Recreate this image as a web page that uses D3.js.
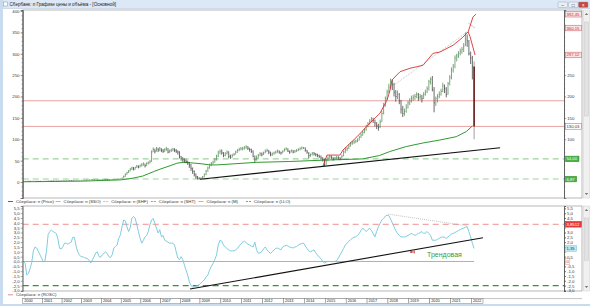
<!DOCTYPE html>
<html>
<head>
<meta charset="utf-8">
<script src="https://cdn.jsdelivr.net/npm/d3@7"></script>
<style>
  body { margin: 0; background: #fff; }
  svg { display: block; font-family: "Liberation Sans", Arial, sans-serif; }
</style>
</head>
<body>
<svg id="chart" width="590" height="306"></svg>
<script>
// monthly bars, Jan 2000 .. Feb 2022
const priceHi = [
  1.6,1.9,2.1,2.0,1.9,1.9,2.1,2.2,2.0,1.9,1.7,1.8,
  2.0,2.2,2.4,2.6,2.8,2.8,2.6,2.8,2.7,2.8,3.1,3.3,
  3.5,3.7,4.0,4.3,4.1,3.8,3.6,3.6,3.8,4.0,4.3,4.4,
  4.5,4.8,4.7,5.1,5.5,6.0,5.8,5.4,5.5,5.3,5.4,5.8,
  6.3,6.8,6.6,6.1,5.6,5.6,6.0,6.2,6.4,6.8,7.5,8.2,
  10,15,20,24,28,33,36,35,36,40,39,41,
  44,46,43,46,48,52,74,81,78,82,80,82,
  79,77,79,82,79,76,78,80,79,77,74,72,
  61,58,55,53,50,47,42,34,27,20,14,11,
  11,14,20,28,36,43,47,50,56,64,73,76,
  76,70,70,74,72,64,66,68,73,77,80,82,
  82,84,86,84,80,78,74,62,62,66,70,69,
  71,76,78,75,71,69,71,73,76,74,71,74,
  79,81,79,74,76,75,75,77,79,81,83,82,
  81,75,70,67,70,70,68,66,64,62,58,54,
  54,60,63,62,58,59,61,60,58,64,74,80,
  82,88,93,96,98,99,102,108,114,120,126,134,
  140,147,152,150,146,140,136,146,166,185,200,216,
  230,242,240,232,215,214,208,192,178,172,182,190,
  196,202,204,206,210,208,206,204,210,216,224,239,
  245,248,222,200,206,212,218,232,228,222,234,250,
  268,276,296,300,306,312,316,325,350,345,332,305,
  295,282
];
const priceLo = [
  1.2,1.4,1.6,1.6,1.4,1.5,1.6,1.8,1.6,1.4,1.3,1.4,
  1.5,1.7,1.9,2.1,2.3,2.3,2.2,2.3,2.2,2.3,2.5,2.8,
  2.9,3.1,3.3,3.7,3.4,3.2,3.0,3.1,3.3,3.5,3.7,3.8,
  3.9,4.1,4.0,4.3,4.7,5.1,5.0,4.7,4.8,4.5,4.7,5.0,
  5.3,5.7,5.4,4.9,4.6,4.8,5.1,5.4,5.6,5.9,6.3,6.9,
  7,9,12,17,21,25,28,27,29,33,32,34,
  36,38,34,37,41,43,47,70,67,71,70,72,
  70,68,70,73,67,68,70,72,70,68,64,55,
  50,47,45,44,40,33,26,19,13,8,6,6,
  6,8,11,16,24,31,37,41,45,50,58,65,
  64,58,60,64,56,54,57,61,64,68,72,74,
  74,76,78,75,71,68,58,47,50,55,61,60,
  63,67,70,65,60,61,64,66,68,66,64,67,
  71,74,70,66,69,67,68,70,72,74,76,77,
  71,66,55,59,62,62,60,58,56,52,48,37,
  40,49,54,53,50,52,54,53,51,54,60,68,
  72,77,83,87,89,91,93,97,103,108,114,120,
  128,134,140,138,130,124,120,126,140,158,176,192,
  208,218,215,200,188,194,182,160,152,155,162,172,
  180,186,190,192,196,190,192,186,194,202,208,214,
  228,212,163,178,186,196,202,210,208,198,204,226,
  240,256,266,282,290,296,300,304,318,316,296,276,
  240,100
];
const priceCl = [
  1.4,1.7,1.9,1.8,1.6,1.7,1.9,2.0,1.8,1.6,1.5,1.6,
  1.8,2.0,2.2,2.4,2.6,2.5,2.4,2.6,2.4,2.6,2.9,3.0,
  3.2,3.4,3.8,4.0,3.7,3.5,3.3,3.4,3.6,3.8,4.0,4.1,
  4.2,4.5,4.3,4.8,5.2,5.6,5.3,5.0,5.2,4.9,5.1,5.4,
  5.8,6.2,6.0,5.4,5.0,5.2,5.6,5.8,6.0,6.4,7.0,7.5,
  9,13,18,22,26,30,33,30,34,37,35,38,
  40,42,38,44,45,48,70,76,72,78,75,77,
  74,72,76,78,70,73,75,77,74,72,70,60,
  55,52,50,48,45,40,32,25,18,12,9,8,
  9,12,18,26,33,40,44,47,52,60,70,72,
  68,62,66,70,60,58,62,65,70,74,76,78,
  78,80,82,79,76,72,60,52,56,62,66,64,
  68,72,74,70,64,66,68,70,72,70,68,72,
  76,78,72,70,74,70,72,74,76,78,80,80,
  74,70,62,64,68,66,64,62,60,56,52,40,
  50,56,60,58,54,56,58,57,55,60,70,76,
  78,84,90,92,94,96,98,104,110,116,122,130,
  136,142,148,145,138,132,128,140,160,178,195,210,
  222,235,228,210,200,205,190,170,160,165,175,185,
  190,195,198,200,205,198,200,195,205,210,218,235,
  240,215,185,195,200,205,212,225,218,205,230,245,
  262,270,290,295,300,305,310,318,335,330,300,290,
  270,130.03
];
// oscillator (SSO), monthly
const oscValues = [
  0.0,-0.2,-1.4,-1.25,-0.75,-0.1,1.1,1.5,1.4,1.05,0.7,0.35,
  0.0,0.0,1.1,2.8,3.1,3.25,3.1,3.0,2.9,2.3,1.35,1.3,
  1.55,1.9,1.9,1.8,1.9,2.0,2.5,2.5,1.6,1.0,0.7,0.5,
  0.5,0.4,0.35,0.3,0.1,-0.15,0.2,0.5,0.9,1.0,0.5,0.45,
  0.7,0.85,1.0,0.8,0.5,0.4,0.7,1.4,1.55,1.7,2.4,2.75,
  3.6,4.3,4.2,3.6,3.1,3.5,4.5,4.65,4.5,3.8,3.1,2.4,
  1.9,2.2,2.55,2.7,3.1,3.8,4.3,4.45,3.95,3.45,2.95,3.3,
  2.55,2.7,2.2,2.1,2.0,1.9,1.9,1.9,1.7,1.0,0.35,0.2,
  0.5,0.2,-0.35,-0.9,-1.4,-2.1,-2.5,-2.65,-2.6,-2.55,-2.5,-2.4,
  -2.25,-2.05,-1.9,-1.6,-1.4,-0.9,-0.5,-0.2,0.2,0.67,1.7,2.2,
  2.1,1.7,1.5,1.35,1.2,1.1,1.1,1.1,1.2,1.35,1.6,1.8,
  2.0,2.1,1.95,1.8,1.7,1.6,1.5,2.0,1.2,0.85,0.9,1.0,
  1.3,1.5,1.2,1.0,0.85,1.0,1.2,1.35,1.4,1.3,1.2,1.5,
  1.6,1.7,1.6,1.5,1.45,1.4,1.5,1.55,1.7,1.8,1.85,1.9,
  1.6,1.35,1.1,1.0,1.1,1.2,0.9,0.67,0.45,0.3,0.0,-0.15,
  -0.05,0.0,0.0,0.0,0.0,0.0,0.1,0.35,0.7,1.0,1.35,1.7,
  1.9,2.1,2.25,2.4,2.5,2.55,2.7,2.9,3.2,3.45,3.3,3.1,
  3.3,3.45,3.2,2.9,2.55,3.1,3.6,3.95,4.3,4.45,4.7,4.8,
  4.75,4.4,4.0,3.6,3.2,2.9,2.7,2.55,2.55,2.55,2.6,2.7,
  2.8,2.9,2.8,2.7,2.8,2.9,3.0,3.1,2.9,2.95,3.1,2.9,
  2.7,2.2,2.2,2.2,2.3,2.4,2.5,2.55,2.5,2.4,2.55,2.7,
  2.85,2.9,3.0,3.1,3.2,3.3,3.4,3.45,3.55,3.6,3.1,2.55,
  1.9,1.35
];
// moving average [year, value]
const maPoints = [
  [2000.0,0.5],[2003.0,2],[2005.0,5],[2005.6,9],[2006.1,14],[2006.63,24],[2006.97,30],
  [2007.48,38],[2007.83,44],[2008.14,46],[2008.5,45],[2009.0,43],[2009.48,40],[2009.81,40],
  [2010.77,43],[2011.72,46],[2013.3,48],[2014.87,51],[2016.78,54],[2017.6,62],[2018.07,71],
  [2018.88,83],[2019.65,91],[2020.46,98],[2021.27,106],[2021.75,118],[2022.04,131]
];
// upper envelope line and its two end branches
const envPoints = [
  [2014.89,37],[2015.08,63],[2015.7,63],[2015.85,75],[2016.52,106],[2017.14,138],[2017.62,161],
  [2017.96,192],[2018.1,215],[2018.2,239],[2018.58,258],[2019.06,266],[2019.68,273],
  [2020.16,301],[2020.49,304],[2021.12,320],[2021.55,337],[2021.84,351]
];
const envUp = [[2021.84,351],[2022.07,386],[2022.21,392.45]];
const envDown = [[2021.84,351],[2021.93,340],[2022.17,297.12]];
const channelTop = [[2018.1,220],[2021.79,351]];
const channelTick = [[2021.84,372],[2022.17,360.15]];
const trendTop = [[2009.0,6.3],[2023.37,80.2]];
const priceLevelsRed = [190, 130.03];
const priceLevelsGreen = [54.0, 6.87];
// oscillator panel lines
const trendOsc = [[2008.49,-2.85],[2022.55,2.46]];
const channelOsc = [[2018.02,4.9],[2021.77,3.7]];
const oscUpper = 3.8512, oscLower = -2.5, oscZeroEnd = 2022.12;
const years = d3.range(2000, 2023);
const priceTicks = d3.range(0, 401, 50);
const oscTicks = d3.range(-3, 5.51, 0.5);
const legendTop = [
  {name: "Сбербанк: п (Price)", color: "#555", dash: null},
  {name: "Сбербанк: п (SSO)", color: "#6cc4d8", dash: null},
  {name: "Сбербанк: п (SHF)", color: "#e8a8a8", dash: "2,1"},
  {name: "Сбербанк: п (SHT)", color: "#e07070", dash: "2,1"},
  {name: "Сбербанк: п (M)", color: "#e09a9a", dash: null},
  {name: "Сбербанк: п (LLO)", color: "#5aa55a", dash: "2,1"}
];

const svg = d3.select("#chart");
const L = 22.7, R = 564;
const monthT = i => 2000 + (i + 0.5) / 12;
const comma = (v, d) => v.toFixed(d).replace(".", ",");

const x = d3.scaleLinear().domain([2000, 2009, 2022]).range([L, 200, 471.5]);
const yP = d3.scaleLinear().domain([-37.4, 402.3]).range([198, 10]);
const yO = d3.scaleLinear().domain([-3.054, 5.745]).range([291, 206]);

// window chrome
svg.append("rect").attr("width", 590).attr("height", 306).attr("fill", "#fff");
svg.append("rect").attr("x", 0).attr("y", 0).attr("width", 590).attr("height", 8.5).attr("fill", "#dce8f5");
svg.append("line").attr("x1", 0).attr("x2", 590).attr("y1", 8.5).attr("y2", 8.5).attr("stroke", "#b8c9dc").attr("stroke-width", 0.6);
svg.append("rect").attr("x", 0).attr("y", 0).attr("width", 3).attr("height", 306).attr("fill", "#c9dbef");
svg.append("rect").attr("x", 0).attr("y", 304).attr("width", 590).attr("height", 2).attr("fill", "#c9dbef");
svg.append("rect").attr("x", 3.5).attr("y", 2).attr("width", 4).attr("height", 4).attr("fill", "#fff").attr("stroke", "#7a8ea6").attr("stroke-width", 0.5);
svg.append("text").attr("x", 9.5).attr("y", 6).attr("font-size", 4.6).attr("fill", "#222")
  .text("Сбербанк: п Графике цены и объёма - [Основной]");
[[558, "#e9eef5", "–"], [568.5, "#e9eef5", "□"], [578.5, "#c9473f", "×"]].forEach(([bx, f, s]) => {
  svg.append("rect").attr("x", bx).attr("y", 2).attr("width", 9.5).attr("height", 5.5).attr("rx", 0.8)
    .attr("fill", f).attr("stroke", "#8a9bb0").attr("stroke-width", 0.4);
  svg.append("text").attr("x", bx + 4.75).attr("y", 6.6).attr("text-anchor", "middle").attr("font-size", 5)
    .attr("fill", f === "#c9473f" ? "#fff" : "#445").text(s);
});

// scrollbars
[[10, 198], [206, 291]].forEach(([a, b]) => {
  svg.append("rect").attr("x", 583.5).attr("y", a).attr("width", 6).attr("height", b - a)
    .attr("fill", "#f0f0f0").attr("stroke", "#cfcfcf").attr("stroke-width", 0.5);
  svg.append("rect").attr("x", 584.3).attr("y", a + 12).attr("width", 4.4).attr("height", (b - a) * 0.5)
    .attr("fill", "#e2e2e2").attr("stroke", "#c4c4c4").attr("stroke-width", 0.4);
  svg.append("path").attr("d", `M584.8,${a + 5}L586.5,${a + 3}L588.2,${a + 5}Z`).attr("fill", "#777");
  svg.append("path").attr("d", `M584.8,${b - 5}L586.5,${b - 3}L588.2,${b - 5}Z`).attr("fill", "#777");
});

// panel frames
[[10, 198], [206, 291]].forEach(([a, b]) => {
  svg.append("rect").attr("x", L).attr("y", a).attr("width", 582 - L).attr("height", b - a)
    .attr("fill", "none").attr("stroke", "#888").attr("stroke-width", 0.6);
});

const defs = svg.append("defs");
defs.append("clipPath").attr("id", "clipTop").append("rect").attr("x", L).attr("y", 10).attr("width", R - L).attr("height", 188);
defs.append("clipPath").attr("id", "clipBot").append("rect").attr("x", L).attr("y", 206).attr("width", R - L).attr("height", 85);

const topG = svg.append("g").attr("clip-path", "url(#clipTop)");
const botG = svg.append("g").attr("clip-path", "url(#clipBot)");

const lineP = d3.line().x(d => x(d[0])).y(d => yP(d[1]));
const lineO = d3.line().x(d => x(d[0])).y(d => yO(d[1]));

// horizontal levels (top)
priceLevelsRed.forEach(v => topG.append("line").attr("x1", L).attr("x2", R).attr("y1", yP(v)).attr("y2", yP(v))
  .attr("stroke", "#e48a8a").attr("stroke-width", 0.8));
priceLevelsGreen.forEach(v => topG.append("line").attr("x1", L).attr("x2", R).attr("y1", yP(v)).attr("y2", yP(v))
  .attr("stroke", "#9ed49e").attr("stroke-width", 1.1).attr("stroke-dasharray", "6,4"));

// moving average
topG.append("path").attr("d", lineP(maPoints)).attr("fill", "none").attr("stroke", "#2f9a2f").attr("stroke-width", 1);

// price bars
const bars = priceCl.map((c, i) => ({
  t: monthT(i), h: priceHi[i], l: priceLo[i], c: c,
  o: i === 0 ? c : priceCl[i - 1], last: i === priceCl.length - 1
}));
const barG = topG.append("g");
barG.selectAll("line.hl").data(bars).join("line").attr("class", "hl")
  .attr("x1", d => x(d.t)).attr("x2", d => x(d.t))
  .attr("y1", d => yP(d.h)).attr("y2", d => yP(d.l))
  .attr("stroke", d => d.last ? "#888" : (d.c >= d.o ? "#5a8f5a" : "#444"))
  .attr("stroke-width", 0.8);
barG.selectAll("line.cl").data(bars.filter(d => !d.last)).join("line").attr("class", "cl")
  .attr("x1", d => x(d.t)).attr("x2", d => x(d.t) + 0.9)
  .attr("y1", d => yP(d.c)).attr("y2", d => yP(d.c))
  .attr("stroke", d => d.c >= d.o ? "#5a8f5a" : "#444").attr("stroke-width", 0.6);
barG.selectAll("rect.body").data(bars.filter(d => d.last)).join("rect").attr("class", "body")
  .attr("x", d => x(d.t) - 0.8).attr("width", 1.6)
  .attr("y", d => yP(d.o)).attr("height", d => yP(d.c) - yP(d.o))
  .attr("fill", "#6e1c1c");

// envelope, channel, trend
topG.append("path").attr("d", lineP(channelTop)).attr("fill", "none").attr("stroke", "#999")
  .attr("stroke-width", 0.6).attr("stroke-dasharray", "1,1");
topG.append("path").attr("d", lineP(channelTick)).attr("fill", "none").attr("stroke", "#aaa").attr("stroke-width", 0.6);
[envPoints, envUp, envDown].forEach(p => topG.append("path").attr("d", lineP(p)).attr("fill", "none")
  .attr("stroke", "#d23434").attr("stroke-width", 0.9));
topG.append("path").attr("d", lineP(trendTop)).attr("fill", "none").attr("stroke", "#111").attr("stroke-width", 1.1);

// oscillator panel
botG.append("line").attr("x1", L).attr("x2", R).attr("y1", yO(oscUpper)).attr("y2", yO(oscUpper))
  .attr("stroke", "#f09090").attr("stroke-width", 1).attr("stroke-dasharray", "6,4");
botG.append("line").attr("x1", L).attr("x2", R).attr("y1", yO(oscLower)).attr("y2", yO(oscLower))
  .attr("stroke", "#3c8f3c").attr("stroke-width", 1.1).attr("stroke-dasharray", "6,4");
botG.append("line").attr("x1", L).attr("x2", x(oscZeroEnd)).attr("y1", yO(0)).attr("y2", yO(0))
  .attr("stroke", "#e07f7f").attr("stroke-width", 0.8);
botG.append("path").attr("d", lineO(oscValues.map((v, i) => [monthT(i), v]))).attr("fill", "none")
  .attr("stroke", "#72c6da").attr("stroke-width", 0.9);
botG.append("path").attr("d", lineO(channelOsc)).attr("fill", "none").attr("stroke", "#999")
  .attr("stroke-width", 0.6).attr("stroke-dasharray", "1,1");
botG.append("path").attr("d", lineO(trendOsc)).attr("fill", "none").attr("stroke", "#111").attr("stroke-width", 1.1);
botG.append("text").attr("x", x(2019.87)).attr("y", yO(0.47)).attr("font-size", 7).attr("fill", "#3a9a3a")
  .text("Трендовая");
const ax0 = x(2019.06), ax1 = x(2019.27), ay = yO(0.98);
botG.append("line").attr("x1", ax0).attr("x2", ax1).attr("y1", ay).attr("y2", ay).attr("stroke", "#d02020").attr("stroke-width", 0.9);
botG.append("path").attr("d", `M${ax0},${ay}L${ax0 + 1.6},${ay - 1.3}L${ax0 + 1.6},${ay + 1.3}Z`).attr("fill", "#d02020");
botG.append("line").attr("x1", ax1).attr("x2", ax1).attr("y1", ay - 1.5).attr("y2", ay + 1.5).attr("stroke", "#d02020").attr("stroke-width", 0.6);

// value tags at the right axis, computed first so the axis labels under them can be skipped
const endVal = p => p[p.length - 1][1];
const lastCl = priceCl[priceCl.length - 1];
const lastOsc = oscValues[oscValues.length - 1];
const tags = [
  {y: yP(endVal(envUp)), text: comma(endVal(envUp), 2), fill: "#fbe4e4", stroke: "#d05050", color: "#c03030"},
  {y: yP(endVal(channelTick)), text: comma(endVal(channelTick), 2), fill: "#fbe4e4", stroke: "#d05050", color: "#c03030"},
  {y: yP(endVal(envDown)), text: comma(endVal(envDown), 2), fill: "#fbe4e4", stroke: "#d05050", color: "#c03030"},
  {y: yP(lastCl), text: comma(lastCl, 2), fill: "#fff", stroke: "#777", color: "#333"},
  ...priceLevelsGreen.map(v => ({y: yP(v), text: comma(v, 2), fill: "#46b246", stroke: "#2e8a2e", color: "#fff"})),
  {y: yO(oscUpper), text: comma(oscUpper, 4), fill: "#e83a3a", stroke: "#c02020", color: "#fff"},
  {y: yO(lastOsc), text: comma(lastOsc, 2), fill: "#bfe8f2", stroke: "#6cc4d8", color: "#234"},
  {y: yO(0), text: "0", fill: "#fff", stroke: "#e09090", color: "#c03030"}
];
const underTag = yy => tags.some(t => Math.abs(t.y - yy) < 4.6);

// axes
function styleAxis(g) {
  g.selectAll(".domain").attr("stroke", "#555").attr("stroke-width", 0.7);
  g.selectAll(".tick line").attr("stroke", "#555").attr("stroke-width", 0.5);
  g.selectAll(".tick text").attr("font-size", 4.3).attr("fill", "#333");
}
const pf = d => String(d);
const of = d => comma(d, 1);
svg.append("g").attr("transform", `translate(${L},0)`)
  .call(d3.axisLeft(yP).tickValues(d3.range(-30, 401, 10)).tickSize(1.2).tickFormat("")).call(styleAxis);
svg.append("g").attr("transform", `translate(${L},0)`)
  .call(d3.axisLeft(yP).tickValues(priceTicks).tickSize(2.2).tickPadding(1).tickFormat(pf)).call(styleAxis);
svg.append("g").attr("transform", `translate(${R},0)`)
  .call(d3.axisRight(yP).tickValues(d3.range(-30, 401, 10)).tickSize(1.2).tickFormat("")).call(styleAxis);
svg.append("g").attr("transform", `translate(${R},0)`)
  .call(d3.axisRight(yP).tickValues(priceTicks.filter(v => !underTag(yP(v)))).tickSize(2.2).tickPadding(1).tickFormat(pf)).call(styleAxis);
svg.append("g").attr("transform", `translate(${L},0)`)
  .call(d3.axisLeft(yO).tickValues(oscTicks).tickSize(2).tickPadding(1).tickFormat(of)).call(styleAxis);
svg.append("g").attr("transform", `translate(${R},0)`)
  .call(d3.axisRight(yO).tickValues(oscTicks).tickSize(2).tickFormat("")).call(styleAxis);
svg.append("g").attr("transform", `translate(${R},0)`)
  .call(d3.axisRight(yO).tickValues(oscTicks.filter(v => !underTag(yO(v)))).tickSize(2).tickPadding(1).tickFormat(of)).call(styleAxis);

tags.forEach(t => {
  const w = t.text.length * 2.3 + 2;
  svg.append("rect").attr("x", R + 1.5).attr("y", t.y - 2.8).attr("width", w).attr("height", 5.6)
    .attr("fill", t.fill).attr("stroke", t.stroke).attr("stroke-width", 0.5);
  svg.append("text").attr("x", R + 2.5).attr("y", t.y + 1.5).attr("font-size", 4.2).attr("fill", t.color).text(t.text);
});

// legends
const legG = svg.append("g");
legendTop.forEach((d, i) => {
  const lx = 8 + i * 47.6;
  legG.append("line").attr("x1", lx).attr("x2", lx + 5).attr("y1", 201.5).attr("y2", 201.5)
    .attr("stroke", d.color).attr("stroke-width", 0.9).attr("stroke-dasharray", d.dash);
  legG.append("text").attr("x", lx + 8).attr("y", 203).attr("font-size", 4.3).attr("fill", "#333").text(d.name);
});
legG.append("line").attr("x1", 8).attr("x2", 13).attr("y1", 294.8).attr("y2", 294.8).attr("stroke", "#e07f7f").attr("stroke-width", 0.9);
legG.append("text").attr("x", 16).attr("y", 296.3).attr("font-size", 4.3).attr("fill", "#333").text("Сбербанк: п (ROSC)");

// year row
const yr = svg.append("g");
yr.append("line").attr("x1", L).attr("x2", 582).attr("y1", 298.6).attr("y2", 298.6).attr("stroke", "#888").attr("stroke-width", 0.5);
yr.selectAll("rect").data(years).join("rect")
  .attr("x", d => Math.max(L, x(d))).attr("y", 298.6)
  .attr("width", d => Math.min(x(d + 1), 483) - Math.max(L, x(d))).attr("height", 4.8)
  .attr("fill", "#fff").attr("stroke", "#777").attr("stroke-width", 0.5);
yr.selectAll("text").data(years).join("text")
  .attr("x", d => Math.max(L, x(d)) + 1.5).attr("y", 302.4)
  .attr("font-size", 3.8).attr("fill", "#222").text(d => d);
</script>
</body>
</html>
